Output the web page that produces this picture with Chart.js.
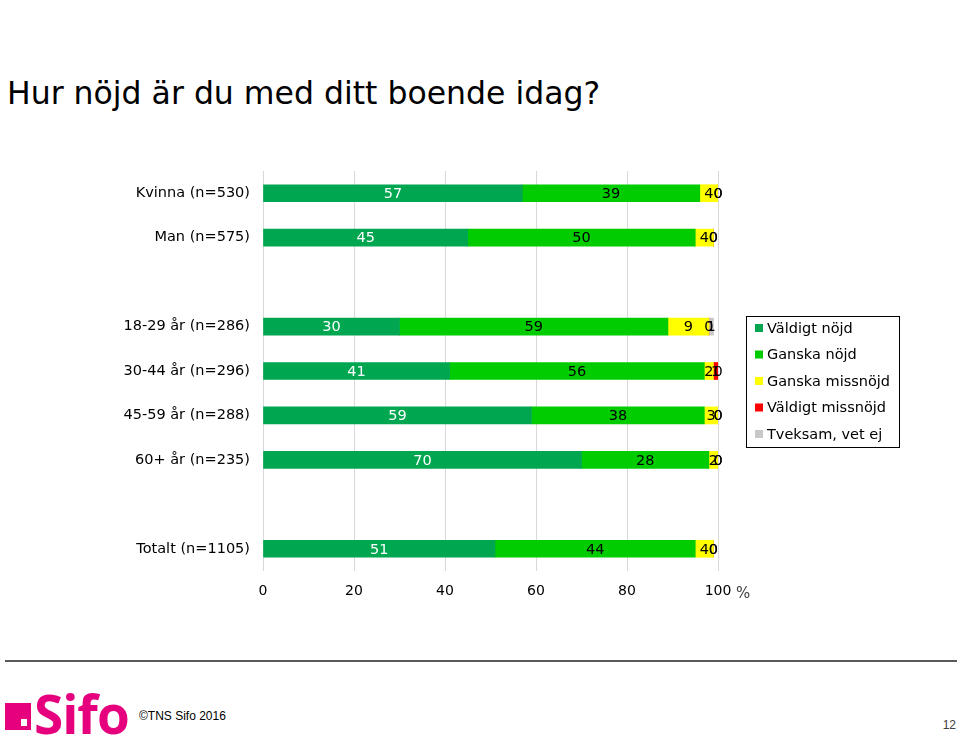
<!DOCTYPE html>
<html lang="sv">
<head>
<meta charset="utf-8">
<title>Hur nöjd är du med ditt boende idag?</title>
<script src="https://cdn.jsdelivr.net/npm/chart.js@4.4.1/dist/chart.umd.min.js"></script>
<style>
  html, body { margin: 0; padding: 0; background: #fff; }
  #page { position: relative; width: 960px; height: 738px; overflow: hidden; font-family: "DejaVu Sans", Verdana, sans-serif; }
  #title { position: absolute; left: 7px; top: 75px; font-size: 31.5px; color: #000; white-space: nowrap; }
  #chart { position: absolute; left: 0; top: 0; }
  #rule { position: absolute; left: 5px; top: 660px; width: 952px; height: 2px; background: #595959; }
  #logo-box { position: absolute; left: 5px; top: 703px; width: 26px; height: 27px; background: #e6007e; }
  #logo-dot { position: absolute; left: 16px; top: 16px; width: 6px; height: 7px; background: #fff; }
  #logo-text { position: absolute; left: 34px; top: 677px; font-family: "Open Sans", sans-serif; font-weight: 700; font-size: 53px; color: #e6007e; letter-spacing: -1px; }
  #copy { position: absolute; left: 139px; top: 709px; font-family: "Liberation Sans", Arial, sans-serif; font-size: 12px; color: #000; }
  #pagenum { position: absolute; right: 4px; top: 718px; font-family: "Liberation Sans", Arial, sans-serif; font-size: 12px; color: #404040; }
</style>
</head>
<body>
<div id="page">
  <div id="title">Hur nöjd är du med ditt boende idag?</div>
  <canvas id="chart" width="960" height="650"></canvas>
  <div id="rule"></div>
  <div id="logo-box"><div id="logo-dot"></div></div>
  <div id="logo-text">Sifo</div>
  <div id="copy">©TNS Sifo 2016</div>
  <div id="pagenum">12</div>
</div>
<script>
// Chart data (percent)
const categories = ['Kvinna (n=530)', 'Man (n=575)', '', '18-29 år (n=286)', '30-44 år (n=296)', '45-59 år (n=288)', '60+ år (n=235)', '', 'Totalt (n=1105)'];
const valdigtNojd = [57, 45, null, 30, 41, 59, 70, null, 51];
const ganskaNojd = [39, 50, null, 59, 56, 38, 28, null, 44];
const ganskaMissnojd = [4, 4, null, 9, 2, 3, 2, null, 4];
const valdigtMissnojd = [0, 0, null, 0, 1, 0, 0, null, 0];
const tveksam = [0, 0, null, 1, 0, 0, 0, null, 0];
const seriesNames = ['Väldigt nöjd', 'Ganska nöjd', 'Ganska missnöjd', 'Väldigt missnöjd', 'Tveksam, vet ej'];
const xTicks = [0, 20, 40, 60, 80, 100];

const colors = ['#00a650', '#00cc00', '#ffff00', '#ff0000', '#c8c8c8'];
const labelColors = ['#ffffff', '#000000', '#000000', '#000000', '#000000'];
const FONT = '"DejaVu Sans", Verdana, sans-serif';

const seriesValues = [valdigtNojd, ganskaNojd, ganskaMissnojd, valdigtMissnojd, tveksam];

// Draw value labels, the legend box and the % sign
const extrasPlugin = {
  id: 'extras',
  afterDatasetsDraw(chart) {
    const ctx = chart.ctx;
    ctx.save();
    ctx.font = '14.5px ' + FONT;
    ctx.textAlign = 'center';
    ctx.textBaseline = 'middle';
    chart.data.datasets.forEach((ds, i) => {
      const meta = chart.getDatasetMeta(i);
      meta.data.forEach((bar, j) => {
        const v = ds.data[j];
        if (v === null || v === undefined) return;
        ctx.fillStyle = labelColors[i];
        ctx.fillText(String(v), (bar.x + bar.base) / 2, bar.y + 1);
      });
    });
    ctx.restore();
  },
  afterDraw(chart) {
    const ctx = chart.ctx;
    ctx.save();
    // legend
    ctx.strokeStyle = '#000';
    ctx.lineWidth = 1;
    ctx.strokeRect(746.5, 316.5, 153, 131);
    ctx.font = '14.5px ' + FONT;
    ctx.textAlign = 'left';
    ctx.textBaseline = 'middle';
    chart.data.datasets.forEach((ds, i) => {
      const y = 328 + i * 26.5;
      ctx.fillStyle = ds.backgroundColor;
      ctx.fillRect(755, y - 4, 8, 8);
      ctx.fillStyle = '#000';
      ctx.fillText(ds.label, 767, y + 1);
    });
    // percent sign after the axis
    ctx.fillStyle = '#404040';
    ctx.font = '15px ' + FONT;
    ctx.fillText('%', 736, 594);
    ctx.restore();
  }
};

new Chart(document.getElementById('chart'), {
  type: 'bar',
  data: {
    labels: categories,
    datasets: seriesValues.map((vals, i) => ({
      label: seriesNames[i],
      data: vals,
      backgroundColor: colors[i],
      borderWidth: 0,
      barThickness: 17
    }))
  },
  options: {
    indexAxis: 'y',
    responsive: false,
    animation: false,
    layout: { padding: { top: 171, right: 242, bottom: 39, left: 0 } },
    scales: {
      x: {
        stacked: true,
        min: 0,
        max: 100,
        afterBuildTicks(scale) { scale.ticks = xTicks.map(v => ({ value: v })); },
        afterFit(scale) { scale.height = 40; },
        grid: { color: '#d9d9d9', drawTicks: false },
        border: { display: false },
        ticks: { color: '#000', padding: 12, font: { family: FONT, size: 14 } }
      },
      y: {
        stacked: true,
        afterFit(scale) { scale.width = 263; },
        grid: { display: false, drawTicks: false },
        border: { display: false },
        ticks: { color: '#000', padding: 13, font: { family: FONT, size: 14.5 } }
      }
    },
    plugins: {
      legend: { display: false },
      tooltip: { enabled: false }
    }
  },
  plugins: [extrasPlugin]
});
</script>
</body>
</html>
